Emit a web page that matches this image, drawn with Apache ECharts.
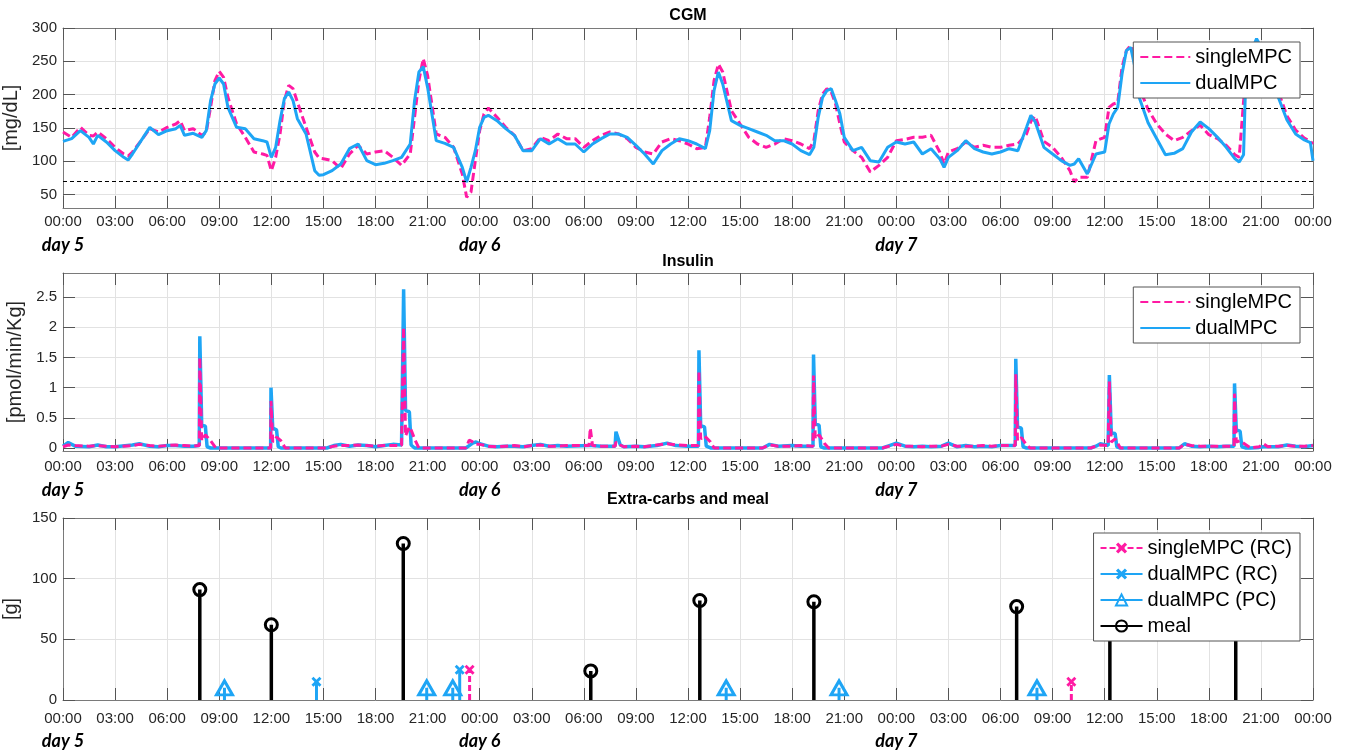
<!DOCTYPE html>
<html>
<head>
<meta charset="utf-8">
<title>CGM, Insulin, Extra-carbs and meal</title>
<script src="https://cdn.jsdelivr.net/npm/echarts@6.0.0/dist/echarts.min.js"></script>
<style>
html, body { margin: 0; padding: 0; background: #fff; }
#main { width: 1348px; height: 754px; }
</style>
</head>
<body>
<div id="main"></div>
<script>
// ---- data (hours counted from 00:00 of day 5) ----
var firstDay = 5;
var dayTicks = [0, 24, 48];
var cgmTicks = [50, 100, 150, 200, 250, 300];
var cgmLimits = [70, 180];
var insTicks = [0, 0.5, 1, 1.5, 2, 2.5];
var carbTicks = [0, 50, 100, 150];

var cgmHours = [
  0, 0.5, 1, 1.5, 1.75, 2, 2.5, 3, 3.5, 3.75,
  4, 4.5, 5, 5.5, 6, 6.5, 6.75, 7, 7.5, 8,
  8.25, 8.5, 8.75, 9, 9.25, 9.5, 10, 10.5, 11, 11.5,
  11.75, 12, 12.25, 12.5, 12.75, 13, 13.25, 13.5, 14, 14.5,
  14.75, 15, 15.5, 16, 16.5, 17, 17.5, 18, 18.5, 19,
  19.5, 20, 20.25, 20.5, 20.75, 21, 21.5, 22, 22.5, 23,
  23.25, 23.5, 23.75, 24, 24.25, 24.5, 25, 25.5, 26, 26.5,
  27, 27.5, 28, 28.5, 29, 29.5, 30, 30.5, 31, 31.5,
  32, 32.5, 33, 33.5, 34, 34.5, 35, 35.5, 36, 36.5,
  37, 37.25, 37.5, 37.75, 38, 38.5, 39, 39.5, 40, 40.5,
  41, 41.5, 42, 42.5, 43, 43.25, 43.5, 43.75, 44, 44.25,
  44.5, 44.75, 45, 45.5, 46, 46.5, 47, 47.5, 48, 48.5,
  49, 49.5, 50, 50.5, 50.75, 51, 51.5, 52, 52.5, 53,
  53.5, 54, 54.5, 55, 55.5, 55.75, 56, 56.5, 57, 57.5,
  58, 58.25, 58.5, 59, 59.5, 60, 60.25, 60.5, 60.75, 61,
  61.25, 61.5, 61.75, 62, 62.5, 63, 63.5, 64, 64.5, 65,
  65.5, 66, 66.5, 67, 67.5, 67.75, 68, 68.1, 68.4, 68.75,
  69, 69.5, 70, 70.5, 71, 71.5, 71.85, 72
];
var cgmSingle = [
  144, 136, 151, 139, 138, 144, 134, 121, 111, 108,
  114, 131, 149, 144, 151, 156, 161, 146, 149, 139,
  144, 181, 221, 235, 226, 196, 156, 136, 114, 111,
  109, 86, 106, 141, 191, 214, 209, 189, 151, 114,
  105, 104, 101, 89, 111, 124, 111, 114, 116, 106,
  94, 111, 166, 221, 254, 229, 141, 136, 121, 81,
  46, 54, 101, 146, 171, 180, 166, 151, 139, 116,
  119, 136, 131, 141, 134, 134, 121, 131, 139, 144,
  141, 134, 121, 114, 111, 129, 134, 131, 126, 119,
  121, 166, 221, 246, 234, 176, 156, 136, 126, 121,
  126, 134, 131, 126, 119, 131, 176, 201, 209, 204,
  186, 156, 129, 116, 106, 84, 94, 106, 131, 133,
  136, 136, 139, 114, 96, 114, 119, 129, 121, 124,
  121, 121, 124, 126, 141, 160, 168, 130, 121, 106,
  86, 69, 76, 76, 131, 136, 181, 186, 188, 241,
  266, 274, 255, 210, 178, 156, 141, 131, 136, 146,
  154, 140, 134, 124, 110, 106, 190, 215, 250, 268,
  265, 238, 205, 168, 147, 135, 130, 126
];
var cgmDual = [
  130, 134, 146, 136, 126, 139, 129, 116, 106, 102,
  111, 131, 151, 140, 146, 149, 154, 139, 142, 136,
  146, 191, 216, 225, 216, 181, 151, 149, 134, 131,
  129, 106, 121, 161, 194, 204, 191, 164, 141, 86,
  79, 80, 86, 96, 119, 126, 101, 95, 97, 101,
  106, 126, 191, 234, 242, 211, 131, 127, 121, 91,
  69, 91, 116, 151, 166, 169, 161, 149, 139, 116,
  116, 134, 126, 134, 126, 126, 114, 126, 134, 141,
  141, 136, 124, 111, 96, 116, 126, 134, 131, 126,
  119, 146, 206, 234, 216, 161, 154, 149, 144, 139,
  131, 131, 126, 116, 110, 121, 166, 196, 206, 209,
  191, 171, 136, 116, 121, 101, 99, 121, 129, 126,
  129, 111, 119, 104, 91, 106, 116, 131, 119, 114,
  111, 114, 119, 116, 151, 169, 159, 121, 111, 101,
  94, 96, 104, 81, 111, 114, 156, 171, 181, 231,
  266, 271, 240, 195, 158, 134, 110, 112, 119, 144,
  159, 149, 136, 121, 104, 99, 110, 200, 262, 284,
  272, 232, 196, 162, 141, 132, 128, 101
];

var insHours = [
  0, 0.3, 0.7, 1.5, 2, 2.5, 3, 4, 4.4, 5,
  5.5, 6, 6.5, 7, 7.5, 7.85, 7.88, 7.96, 7.99, 8.2,
  8.3, 8.5, 8.8, 11.96, 11.98, 12.05, 12.08, 12.3, 12.4, 12.55,
  12.8, 15.2, 15.6, 16, 16.5, 17, 17.5, 18, 18.5, 19,
  19.5, 19.6, 19.62, 19.7, 19.73, 19.95, 20.05, 20.25, 20.5, 23.2,
  23.4, 23.6, 23.8, 24, 24.5, 25, 25.5, 26, 26.5, 27,
  27.5, 28, 28.5, 29, 30.3, 30.37, 30.45, 30.5, 31, 31.8,
  31.85, 31.95, 32.1, 32.3, 33, 33.5, 34.2, 34.8, 35.3, 36,
  36.6, 36.63, 36.7, 36.73, 36.95, 37.05, 37.3, 37.5, 40.3, 40.7,
  41.2, 42, 42.5, 43.2, 43.23, 43.3, 43.33, 43.55, 43.65, 43.85,
  44.1, 47.2, 47.6, 48, 48.5, 49, 49.5, 50, 50.6, 51,
  51.5, 52, 52.5, 53, 53.5, 54, 54.85, 54.88, 54.95, 54.98,
  55.2, 55.3, 55.5, 55.7, 59.2, 59.5, 59.75, 60.2, 60.27, 60.35,
  60.38, 60.6, 60.7, 60.9, 64.3, 64.6, 65, 65.5, 66, 66.5,
  67, 67.45, 67.48, 67.55, 67.58, 67.8, 67.9, 68.15, 68.4, 68.9,
  69.15, 69.4, 70, 70.5, 71, 71.5, 72
];
var insSingle = [
  0.02, 0.05, 0.04, 0.03, 0.04, 0.03, 0.02, 0.04, 0.06, 0.04,
  0.03, 0.04, 0.05, 0.04, 0.03, 0.04, 1.5, 1.5, 0.12, 0.22,
  0.2, 0.12, 0, 0, 0.78, 0.78, 0.1, 0.18, 0.2, 0.12,
  0, 0, 0.03, 0.04, 0.04, 0.05, 0.04, 0.03, 0.04, 0.04,
  0.04, 0.05, 2.0, 2.0, 0.2, 0.35, 0.3, 0.15, 0, 0,
  0.13, 0.1, 0.06, 0.06, 0.03, 0.02, 0.03, 0.04, 0.02, 0.04,
  0.05, 0.03, 0.03, 0.04, 0.04, 0.33, 0.33, 0.04, 0.03, 0.03,
  0.1, 0.1, 0.05, 0.02, 0.03, 0.02, 0.05, 0.07, 0.05, 0.04,
  0.04, 1.28, 1.28, 0.15, 0.2, 0.2, 0.1, 0, 0, 0.05,
  0.03, 0.03, 0.04, 0.03, 1.2, 1.2, 0.15, 0.22, 0.2, 0.08,
  0, 0, 0.03, 0.06, 0.03, 0.03, 0.02, 0.03, 0.03, 0.06,
  0.03, 0.03, 0.03, 0.04, 0.03, 0.04, 0.04, 1.22, 1.22, 0.12,
  0.17, 0.15, 0.05, 0, 0, 0.03, 0.05, 0.04, 1.1, 1.1,
  0.1, 0.15, 0.12, 0, 0, 0.06, 0.04, 0.03, 0.03, 0.03,
  0.03, 0.03, 0.9, 0.9, 0.1, 0.12, 0.12, 0.05, 0, 0.02,
  0.07, 0.02, 0.03, 0.04, 0.03, 0.03, 0.04
];
var insDual = [
  0.03, 0.09, 0.03, 0.02, 0.05, 0.02, 0.02, 0.05, 0.07, 0.03,
  0.02, 0.04, 0.04, 0.03, 0.03, 0.04, 1.85, 1.85, 0.38, 0.36,
  0.02, 0, 0, 0, 1.0, 1.0, 0.33, 0.3, 0.02, 0,
  0, 0, 0.04, 0.06, 0.03, 0.05, 0.04, 0.02, 0.04, 0.06,
  0.05, 0.05, 2.63, 2.63, 0.62, 0.6, 0.05, 0, 0, 0,
  0.04, 0.08, 0.1, 0.07, 0.03, 0.02, 0.03, 0.03, 0.02, 0.04,
  0.06, 0.03, 0.04, 0.03, 0.04, 0.04, 0.04, 0.04, 0.03, 0.03,
  0.27, 0.27, 0.05, 0.02, 0.03, 0.02, 0.04, 0.08, 0.04, 0.03,
  0.03, 1.62, 1.62, 0.37, 0.35, 0.03, 0, 0, 0, 0.06,
  0.03, 0.04, 0.03, 0.03, 1.55, 1.55, 0.4, 0.38, 0.02, 0,
  0, 0, 0.04, 0.08, 0.03, 0.02, 0.03, 0.02, 0.03, 0.08,
  0.02, 0.04, 0.02, 0.03, 0.02, 0.04, 0.04, 1.48, 1.48, 0.35,
  0.33, 0.02, 0, 0, 0, 0.03, 0.07, 0.04, 1.21, 1.21,
  0.25, 0.24, 0.02, 0, 0, 0.07, 0.03, 0.02, 0.03, 0.02,
  0.03, 0.03, 1.07, 1.07, 0.3, 0.28, 0.02, 0, 0, 0.01,
  0.02, 0.02, 0.02, 0.05, 0.03, 0.02, 0.04
];

var mealHours = [7.88, 12.0, 19.6, 30.4, 36.68, 43.25, 54.93, 60.3, 67.55];
var mealGrams = [91, 62, 129, 24, 82, 81, 77, 70, 65];
var singleRCHours = [23.42, 58.08];
var singleRCGrams = [25, 15];
var dualRCHours = [14.6, 22.85];
var dualRCGrams = [15, 25];
var dualPCHours = [9.3, 20.95, 22.45, 38.2, 44.7, 56.1];
var dualPCGrams = [10, 10, 10, 10, 10, 10];

// ---- style ----
var PINK = '#ff1aa3';
var BLUE = '#1ea5f5';
var FONT = '"Liberation Sans", Arial, sans-serif';
var LABEL = '#262626';
var BOX = '#7a7a7a';
var TICK = '#555';
var GRIDLINE = '#e2e2e2';
var XMARK = 'path://M0,2L2,0L5,3L8,0L10,2L7,5L10,8L8,10L5,7L2,10L0,8L3,5Z';

function pad(n) { return (n < 10 ? '0' : '') + n; }
function zip(xs, ys) { return xs.map(function (x, i) { return [x, ys[i]]; }); }
// stem plot: line from 0 up to the value, marker on top, then a gap
function stems(xs, ys) {
  var out = [];
  xs.forEach(function (x, i) {
    out.push({ value: [x, 0], symbol: 'none' });
    out.push([x, ys[i]]);
    out.push([x, '-']);
  });
  return out;
}

var panels = [
  { top: 28, height: 180, labelMargin: 6, dayMargin: 28, min: 30, max: 300, ticks: cgmTicks, name: '[mg/dL]', nameGap: 35 },
  { top: 273, height: 178, labelMargin: 8, dayMargin: 30, min: -0.05, max: 2.9, ticks: insTicks, name: '[pmol/min/Kg]', nameGap: 31 },
  { top: 518, height: 182, labelMargin: 11, dayMargin: 32, min: 0, max: 150, ticks: carbTicks, name: '[g]', nameGap: 35 }
];

var grid = [], xAxis = [], yAxis = [];
panels.forEach(function (p, g) {
  grid.push({ left: 63, top: p.top, width: 1250, height: p.height, outerBoundsMode: 'none', containLabel: false });
  // bottom axis with hour labels
  xAxis.push({
    gridIndex: g, type: 'value', min: 0, max: 72, interval: 3, position: 'bottom',
    axisLine: { show: true, onZero: false, lineStyle: { color: BOX } },
    axisTick: { show: true, inside: true, length: 12, lineStyle: { color: TICK } },
    axisLabel: { color: LABEL, fontSize: 15, margin: p.labelMargin,
      formatter: function (v) { return pad(v % 24) + ':00'; } },
    splitLine: { show: true, lineStyle: { color: GRIDLINE } }
  });
  // top box edge
  xAxis.push({
    gridIndex: g, type: 'value', min: 0, max: 72, interval: 3, position: 'top',
    axisLine: { show: true, onZero: false, lineStyle: { color: BOX } },
    axisTick: { show: true, inside: true, length: 12, lineStyle: { color: TICK } },
    axisLabel: { show: false }, splitLine: { show: false }
  });
  // day names
  xAxis.push({
    gridIndex: g, type: 'value', min: 0, max: 72, position: 'bottom',
    axisLine: { show: false, onZero: false }, axisTick: { show: false }, splitLine: { show: false },
    axisLabel: { customValues: dayTicks, margin: p.dayMargin, color: '#000',
      fontFamily: 'Lato, "Open Sans", sans-serif', fontStyle: 'italic', fontWeight: 'bold', fontSize: 18,
      formatter: function (v) { return 'day ' + (firstDay + v / 24); } }
  });
  yAxis.push({
    gridIndex: g, type: 'value', min: p.min, max: p.max, position: 'left',
    name: p.name, nameLocation: 'middle', nameGap: p.nameGap,
    nameTextStyle: { fontSize: 20, color: LABEL },
    axisLine: { show: true, onZero: false, lineStyle: { color: BOX } },
    axisTick: { show: true, inside: true, length: 12, customValues: p.ticks, lineStyle: { color: TICK } },
    axisLabel: { customValues: p.ticks, color: LABEL, fontSize: 15, margin: 6 },
    splitLine: { show: true, lineStyle: { color: GRIDLINE } }
  });
  yAxis.push({
    gridIndex: g, type: 'value', min: p.min, max: p.max, position: 'right',
    axisLine: { show: true, onZero: false, lineStyle: { color: BOX } },
    axisTick: { show: true, inside: true, length: 12, customValues: p.ticks, lineStyle: { color: TICK } },
    axisLabel: { show: false }, splitLine: { show: false }
  });
});

var legendBase = {
  orient: 'vertical', right: 48, itemWidth: 50, itemHeight: 14, itemGap: 6,
  padding: [5, 8, 5, 6], backgroundColor: '#fff', borderColor: '#555', borderWidth: 1, borderRadius: 0,
  textStyle: { fontSize: 20, color: '#000', fontFamily: FONT }
};
// plain line icons (no marker) for the CGM / insulin legends
function lineOnly(names) {
  return names.map(function (n) { return { name: n, itemStyle: { opacity: 0 } }; });
}

var option = {
  animation: false,
  backgroundColor: '#fff',
  textStyle: { fontFamily: FONT },
  title: [
    { text: 'CGM', left: 688, top: 8, textAlign: 'center', padding: 0,
      textStyle: { fontSize: 16, fontWeight: 'bold', color: '#000' } },
    { text: 'Insulin', left: 688, top: 254, textAlign: 'center', padding: 0,
      textStyle: { fontSize: 16, fontWeight: 'bold', color: '#000' } },
    { text: 'Extra-carbs and meal', left: 688, top: 492, textAlign: 'center', padding: 0,
      textStyle: { fontSize: 16, fontWeight: 'bold', color: '#000' } }
  ],
  legend: [
    Object.assign({}, legendBase, { top: 42, data: lineOnly(['singleMPC', 'dualMPC']) }),
    Object.assign({}, legendBase, { top: 287, data: lineOnly(['singleMPC', 'dualMPC']) }),
    Object.assign({}, legendBase, { top: 533, itemWidth: 42,
      data: ['singleMPC (RC)', 'dualMPC (RC)', 'dualMPC (PC)', 'meal'] })
  ],
  grid: grid,
  xAxis: xAxis,
  yAxis: yAxis,
  series: [
    // CGM
    { name: 'singleMPC', type: 'line', xAxisIndex: 0, yAxisIndex: 0, symbol: 'none',
      lineStyle: { color: PINK, width: 3, type: [8, 4] }, itemStyle: { color: PINK },
      data: zip(cgmHours, cgmSingle) },
    { name: 'dualMPC', type: 'line', xAxisIndex: 0, yAxisIndex: 0, symbol: 'none',
      lineStyle: { color: BLUE, width: 3 }, itemStyle: { color: BLUE },
      data: zip(cgmHours, cgmDual),
      markLine: { silent: true, symbol: 'none', label: { show: false },
        lineStyle: { color: '#000', width: 1, type: [4, 3] },
        data: cgmLimits.map(function (v) { return { yAxis: v }; }) } },
    // Insulin
    { name: 'dualMPC', type: 'line', xAxisIndex: 3, yAxisIndex: 2, symbol: 'none',
      lineStyle: { color: BLUE, width: 3.5 }, itemStyle: { color: BLUE },
      data: zip(insHours, insDual) },
    { name: 'singleMPC', type: 'line', xAxisIndex: 3, yAxisIndex: 2, symbol: 'none',
      lineStyle: { color: PINK, width: 3, type: [8, 4] }, itemStyle: { color: PINK },
      data: zip(insHours, insSingle) },
    // Extra-carbs and meal
    { name: 'meal', type: 'line', xAxisIndex: 6, yAxisIndex: 4,
      symbol: 'circle', symbolSize: 12,
      lineStyle: { color: '#000', width: 3.5 },
      itemStyle: { color: 'rgba(255,255,255,0)', borderColor: '#000', borderWidth: 3 },
      data: stems(mealHours, mealGrams) },
    { name: 'dualMPC (PC)', type: 'line', xAxisIndex: 6, yAxisIndex: 4,
      symbol: 'triangle', symbolSize: [16, 14],
      lineStyle: { color: BLUE, width: 3 },
      itemStyle: { color: 'rgba(255,255,255,0)', borderColor: BLUE, borderWidth: 3 },
      data: stems(dualPCHours, dualPCGrams) },
    { name: 'dualMPC (RC)', type: 'line', xAxisIndex: 6, yAxisIndex: 4,
      symbol: XMARK, symbolSize: 10,
      lineStyle: { color: BLUE, width: 3 }, itemStyle: { color: BLUE },
      data: stems(dualRCHours, dualRCGrams) },
    { name: 'singleMPC (RC)', type: 'line', xAxisIndex: 6, yAxisIndex: 4,
      symbol: XMARK, symbolSize: 10,
      lineStyle: { color: PINK, width: 3, type: [6, 3] }, itemStyle: { color: PINK },
      data: stems(singleRCHours, singleRCGrams) }
  ]
};

var chart = echarts.init(document.getElementById('main'));
chart.setOption(option);
</script>
</body>
</html>
